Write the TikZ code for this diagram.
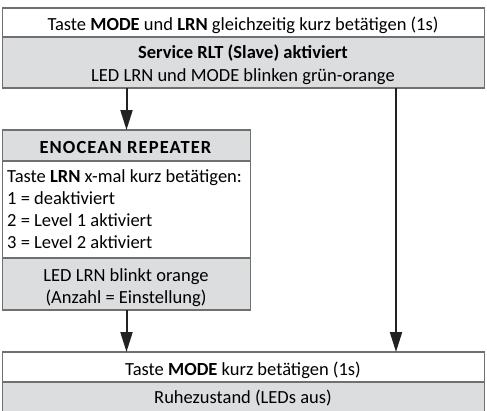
\documentclass[tikz,border=0pt]{standalone}
\usepackage{fontspec}
\setmainfont{Carlito}
\usetikzlibrary{arrows.meta}
\definecolor{boxline}{HTML}{707070}
\definecolor{boxgray}{HTML}{DCDDDF}
\definecolor{arrowc}{HTML}{222222}
\begin{document}
\begin{tikzpicture}[x=1pt,y=-1pt,
  cell/.style={draw=boxline,line width=1.2pt,inner sep=0pt,outer sep=0pt},
  whitecell/.style={cell,fill=white},
  graycell/.style={cell,fill=boxgray},
  txt/.style={inner sep=0pt,font=\fontsize{18.5}{22}\selectfont},
  flow/.style={draw=arrowc,line width=2pt,-{Triangle[length=20pt,width=12pt]}}]
\useasboundingbox (0,0) rectangle (487,410);
% top block
\node[whitecell,minimum width=482pt,minimum height=29pt,anchor=north west] (top1) at (2.5,8) {};
\node[txt,anchor=base] (t1) at (243,30) {Taste \textbf{MODE} und \textbf{LRN} gleichzeitig kurz betätigen (1s)};
\node[graycell,minimum width=482pt,minimum height=51pt,anchor=north west] (top2) at (2.5,37) {};
\node[txt,anchor=base] (t2) at (243,58.5) {\textbf{Service RLT (Slave) aktiviert}};
\node[txt,anchor=base] (t3) at (243,81.5) {LED LRN und MODE blinken grün-orange};
% enocean block
\node[graycell,minimum width=248pt,minimum height=31pt,anchor=north west] (eno1) at (2.5,130) {};
\node[txt,anchor=base] (e1) at (126,153.5) {\addfontfeature{LetterSpace=6}\textbf{ENOCEAN REPEATER}};
\node[whitecell,minimum width=248pt,minimum height=97pt,anchor=north west] (eno2) at (2.5,161) {};
\node[txt,anchor=base west] (e2) at (7,182.5) {Taste \textbf{LRN} x-mal kurz betätigen:};
\node[txt,anchor=base west] (e3) at (7,204.5) {1 = deaktiviert};
\node[txt,anchor=base west] (e4) at (7,226.5) {2 = Level 1 aktiviert};
\node[txt,anchor=base west] (e5) at (7,248) {3 = Level 2 aktiviert};
\node[graycell,minimum width=248pt,minimum height=52pt,anchor=north west] (eno3) at (2.5,258) {};
\node[txt,anchor=base] (e6) at (126,281) {LED LRN blinkt orange};
\node[txt,anchor=base] (e7) at (126,303) {(Anzahl = Einstellung)};
% bottom block
\node[whitecell,minimum width=482pt,minimum height=30pt,anchor=north west] (bot1) at (2.5,352) {};
\node[txt,anchor=base] (b1) at (243,375.5) {Taste \textbf{MODE} kurz betätigen (1s)};
\node[graycell,minimum width=482pt,minimum height=32pt,anchor=north west] (bot2) at (2.5,382) {};
\node[txt,anchor=base] (b2) at (243,403) {Ruhezustand (LEDs aus)};
% arrows
\draw[flow] (top2.south -| eno1.north) -- (eno1.north);
\coordinate (rstart) at (396,88);
\coordinate (rend) at (396,352);
\draw[flow] (rstart) -- (rend);
\draw[flow] (eno3.south) -- (eno3.south |- bot1.north);
\end{tikzpicture}
\end{document}
